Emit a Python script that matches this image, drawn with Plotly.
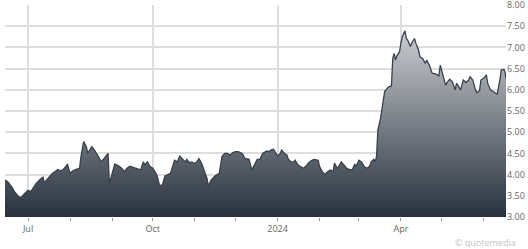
import plotly.graph_objects as go

dates = [
    "2023-06-14", "2023-06-16", "2023-06-19", "2023-06-21", "2023-06-24", "2023-06-26",
    "2023-06-28", "2023-06-30", "2023-07-01", "2023-07-03", "2023-07-05", "2023-07-07",
    "2023-07-10", "2023-07-12", "2023-07-13", "2023-07-15", "2023-07-17", "2023-07-19",
    "2023-07-21", "2023-07-23", "2023-07-25", "2023-07-27", "2023-07-29", "2023-07-30",
    "2023-08-01", "2023-08-03", "2023-08-05", "2023-08-08", "2023-08-09", "2023-08-11",
    "2023-08-13", "2023-08-14", "2023-08-17", "2023-08-19", "2023-08-22", "2023-08-24",
    "2023-08-27", "2023-08-29", "2023-08-30", "2023-09-01", "2023-09-03", "2023-09-06",
    "2023-09-08", "2023-09-10", "2023-09-12", "2023-09-14", "2023-09-17", "2023-09-19",
    "2023-09-22", "2023-09-24", "2023-09-25", "2023-09-27", "2023-09-29", "2023-10-01",
    "2023-10-04", "2023-10-06", "2023-10-08", "2023-10-10", "2023-10-12", "2023-10-14",
    "2023-10-16", "2023-10-17", "2023-10-19", "2023-10-21", "2023-10-23", "2023-10-25",
    "2023-10-26", "2023-10-28", "2023-10-30", "2023-10-31", "2023-11-02", "2023-11-04",
    "2023-11-06", "2023-11-08", "2023-11-10", "2023-11-11", "2023-11-13", "2023-11-16",
    "2023-11-19", "2023-11-21", "2023-11-23", "2023-11-25", "2023-11-27", "2023-11-29",
    "2023-12-01", "2023-12-03", "2023-12-06", "2023-12-08", "2023-12-11", "2023-12-13",
    "2023-12-15", "2023-12-17", "2023-12-19", "2023-12-21", "2023-12-23", "2023-12-24",
    "2023-12-26", "2023-12-27", "2023-12-29", "2023-12-31", "2024-01-01", "2024-01-03",
    "2024-01-04", "2024-01-06", "2024-01-08", "2024-01-09", "2024-01-11", "2024-01-13",
    "2024-01-14", "2024-01-16", "2024-01-18", "2024-01-20", "2024-01-22", "2024-01-24",
    "2024-01-26", "2024-01-28", "2024-01-31", "2024-02-01", "2024-02-03", "2024-02-05",
    "2024-02-07", "2024-02-09", "2024-02-11", "2024-02-12", "2024-02-14", "2024-02-15",
    "2024-02-17", "2024-02-19", "2024-02-21", "2024-02-23", "2024-02-25", "2024-02-27",
    "2024-02-28", "2024-03-01", "2024-03-03", "2024-03-05", "2024-03-07", "2024-03-09",
    "2024-03-10", "2024-03-12", "2024-03-13", "2024-03-14", "2024-03-15", "2024-03-17",
    "2024-03-18", "2024-03-19", "2024-03-20", "2024-03-22", "2024-03-23", "2024-03-25",
    "2024-03-26", "2024-03-27", "2024-03-28", "2024-03-29", "2024-03-31", "2024-04-01",
    "2024-04-02", "2024-04-04", "2024-04-05", "2024-04-06", "2024-04-08", "2024-04-09",
    "2024-04-11", "2024-04-12", "2024-04-14", "2024-04-15", "2024-04-17", "2024-04-19",
    "2024-04-20", "2024-04-22", "2024-04-24", "2024-04-27", "2024-04-29", "2024-04-30",
    "2024-05-02", "2024-05-04", "2024-05-05", "2024-05-07", "2024-05-09", "2024-05-11",
    "2024-05-12", "2024-05-13", "2024-05-15", "2024-05-17", "2024-05-19", "2024-05-21",
    "2024-05-22", "2024-05-24", "2024-05-26", "2024-05-27", "2024-05-29", "2024-05-30",
    "2024-06-01", "2024-06-03", "2024-06-04", "2024-06-06", "2024-06-08", "2024-06-10",
    "2024-06-11", "2024-06-13", "2024-06-14", "2024-06-16", "2024-06-17", "2024-06-17 12:00",
]

prices = [
    3.87, 3.83, 3.71, 3.60, 3.48, 3.46,
    3.54, 3.59, 3.63, 3.60, 3.69, 3.79,
    3.89, 3.94, 3.81, 3.89, 3.95, 4.03,
    4.07, 4.12, 4.09, 4.12, 4.20, 4.25,
    4.03, 4.09, 4.12, 4.15, 4.42, 4.78,
    4.66, 4.50, 4.66, 4.58, 4.42, 4.30,
    4.42, 4.50, 3.79, 4.03, 4.25, 4.20,
    4.15, 4.07, 4.15, 4.20, 4.16, 4.15,
    4.11, 4.30, 4.23, 4.30, 4.19, 4.15,
    3.99, 3.75, 3.75, 3.97, 4.01, 4.03,
    4.23, 4.34, 4.30, 4.44, 4.36, 4.30,
    4.36, 4.28, 4.30, 4.27, 4.28, 4.38,
    4.27, 4.07, 3.91, 3.73, 3.87, 3.97,
    4.03, 4.42, 4.50, 4.50, 4.46, 4.52,
    4.54, 4.54, 4.50, 4.38, 4.36, 4.11,
    4.23, 4.36, 4.36, 4.50, 4.54, 4.56,
    4.54, 4.58, 4.60, 4.50, 4.44, 4.50,
    4.58, 4.50, 4.46, 4.36, 4.30, 4.30,
    4.34, 4.23, 4.19, 4.15, 4.20, 4.28,
    4.33, 4.36, 4.34, 4.19, 4.07, 4.01,
    4.07, 4.11, 4.07, 4.27, 4.15, 4.19,
    4.30, 4.23, 4.15, 4.12, 4.11, 4.25,
    4.19, 4.34, 4.30, 4.19, 4.15, 4.20,
    4.30, 4.36, 4.30, 4.42, 5.05, 5.33,
    5.52, 5.76, 5.96, 6.04, 6.07, 6.09,
    6.74, 6.86, 6.70, 6.80, 6.90, 7.10,
    7.25, 7.39, 7.21, 7.17, 7.02, 7.10,
    7.21, 7.10, 6.94, 6.78, 6.74, 6.62,
    6.70, 6.58, 6.39, 6.37, 6.33, 6.58,
    6.35, 6.11, 6.17, 6.25, 6.19, 6.00,
    6.15, 6.11, 6.00, 6.23, 6.17, 6.23,
    6.31, 6.23, 6.00, 5.93, 5.98, 6.23,
    6.27, 6.35, 6.15, 6.00, 5.96, 5.93,
    5.90, 6.23, 6.47, 6.48, 6.39, 6.25,
]

x_tick_vals = ["2023-07-01", "2023-10-01", "2024-01-01", "2024-04-01"]
x_tick_text = ["Jul", "Oct", "2024", "Apr"]
y_tick_vals = [3.0, 3.5, 4.0, 4.5, 5.0, 5.5, 6.0, 6.5, 7.0, 7.5, 8.0]
y_tick_text = ["3.00", "3.50", "4.00", "4.50", "5.00", "5.50", "6.00", "6.50", "7.00", "7.50", "8.00"]

fig = go.Figure()
fig.add_trace(go.Scatter(
    x=dates, y=prices, mode="lines",
    line=dict(color="#38424e", width=1.3),
    fill="tozeroy",
    fillgradient=dict(
        type="vertical",
        colorscale=[[0, "#27313d"], [1, "#cbcdd0"]],
        start=3.0, stop=7.4,
    ),
    hoverinfo="skip",
))

fig.update_layout(
    width=528, height=249,
    margin=dict(l=5, r=22, t=5, b=32, autoexpand=False),
    paper_bgcolor="white", plot_bgcolor="white",
    showlegend=False,
    font=dict(family="Open Sans, Liberation Sans, sans-serif", size=9, color="#666666"),
    xaxis=dict(
        type="date", automargin=False,
        range=["2023-06-14", "2024-06-17 12:00"],
        tickvals=x_tick_vals, ticktext=x_tick_text,
        showgrid=True, gridcolor="#dedede", gridwidth=1.5,
        ticks="outside", ticklen=3, tickcolor="#999999",
        minor=dict(dtick="M1", tick0="2023-06-01", ticks="outside", ticklen=3,
                   tickcolor="#999999", showgrid=False),
        showline=False, zeroline=False,
        tickfont=dict(size=9, color="#666666"),
    ),
    yaxis=dict(
        range=[3, 8], side="right", automargin=False,
        tickvals=y_tick_vals, ticktext=y_tick_text,
        showgrid=True, gridcolor="#dedede", gridwidth=1.5,
        ticks="", showline=False, zeroline=False,
        ticklabeloverflow="allow",
        tickfont=dict(size=9, color="#666666"),
    ),
    annotations=[dict(
        text="© quotemedia", x=1.0, y=0, xref="paper", yref="paper",
        xanchor="right", yanchor="middle", showarrow=False, xshift=12, yshift=-25,
        font=dict(size=9, color="#c4c4c4"),
    )],
)

fig.write_html("out.html")
